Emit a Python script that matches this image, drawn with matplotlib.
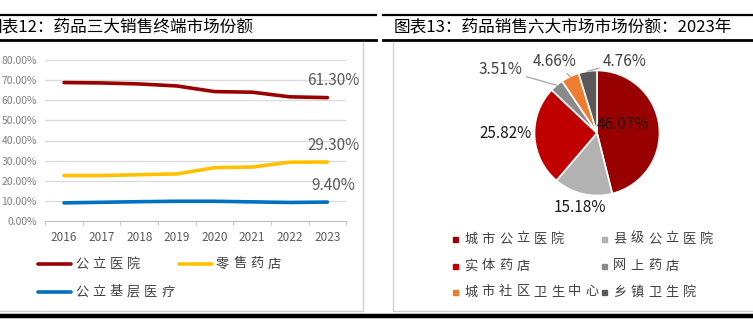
import numpy as np
import matplotlib
matplotlib.use("Agg")
import matplotlib.pyplot as plt
from matplotlib.patches import Rectangle

plt.rcParams['font.family'] = ['Noto Sans CJK SC', 'DejaVu Sans']

# ---- data ----
years = [2016, 2017, 2018, 2019, 2020, 2021, 2022, 2023]
public_hosp = [68.8, 68.6, 68.1, 67.1, 64.3, 64.0, 61.7, 61.3]
retail = [22.6, 22.6, 23.0, 23.4, 26.5, 26.8, 29.2, 29.3]
grassroots = [9.0, 9.3, 9.6, 9.8, 9.8, 9.5, 9.2, 9.4]
line_names = ['公立医院', '零售药店', '公立基层医疗']
line_colors = ['#9B0000', '#FFC000', '#0070C0']

pie_names = ['城市公立医院', '县级公立医院', '实体药店', '网上药店', '城市社区卫生中心', '乡镇卫生院']
pie_shares = [46.07, 15.18, 25.82, 3.51, 4.66, 4.76]
pie_colors = ['#990000', '#B2B2B2', '#C00000', '#8A8A8A', '#ED7D31', '#595959']

W, H = 753, 328
fig = plt.figure(figsize=(W / 100, H / 100), dpi=100)


def box(x0, y0, x1, y1):
    # pixel box (top-left origin) -> figure fraction
    return [x0 / W, 1 - y1 / H, (x1 - x0) / W, (y1 - y0) / H]


# overlay in pixel coords for frames, titles, legends
bg = fig.add_axes([0, 0, 1, 1])
bg.set_xlim(0, W)
bg.set_ylim(H, 0)
bg.axis('off')

# black rules
bg.plot([0, 376], [14.5, 14.5], color='black', lw=1.6)
bg.plot([383, W], [14.5, 14.5], color='black', lw=1.6)
bg.plot([0, 376], [39.5, 39.5], color='black', lw=2.0)
bg.plot([383, W], [39.5, 39.5], color='black', lw=2.0)
bg.plot([0, W], [316, 316], color='black', lw=3.2)
# gray frames
bg.plot([363, 363, 0], [42, 311, 311], color='#D0D0D0', lw=1.0)
bg.plot([393, 393, W], [42, 311, 311], color='#D0D0D0', lw=1.0)

# titles (left one is cut at the edge, as in the source page)
bg.text(-14, 27, '图表12：药品三大销售终端市场份额', fontsize=12, va='center', ha='left', color='black')
bg.text(394, 27, '图表13：药品销售六大市场市场份额：2023年', fontsize=12, va='center', ha='left', color='black')


def spaced(x, y, s, step=17.3, size=9.5, color='#404040'):
    for i, ch in enumerate(s):
        bg.text(x + i * step, y, ch, fontsize=size, ha='center', va='center', color=color)


# ---- line chart ----
ax = fig.add_axes(box(45.2, 60, 346.2, 221))
x = np.arange(len(years))
series = [public_hosp, retail, grassroots]
for vals, c in zip(series, line_colors):
    ax.plot(x, vals, color=c, lw=2.6, solid_capstyle='round')
    ax.annotate(f'{vals[-1]:.2f}%', (x[-1], vals[-1]), xytext=(6, 17),
                textcoords='offset pixels', ha='center', va='center',
                fontsize=11, color='#595959')
ax.set_xlim(-0.5, len(years) - 0.5)
ax.set_ylim(0, 80)
ax.set_yticks(np.arange(0, 81, 10))
ax.set_yticklabels([f'{v:.2f}%' for v in np.arange(0, 81, 10)], fontsize=7.5, color='#7F7F7F')
ax.yaxis.grid(True, color='#D9D9D9', lw=0.9)
ax.set_axisbelow(True)
ax.set_xticks(x)
ax.set_xticklabels([str(y) for y in years], fontsize=8.5, color='#595959')
ax.set_xticks(np.arange(-0.5, len(years)), minor=True)
ax.tick_params(axis='x', which='major', length=0, pad=7)
ax.tick_params(axis='x', which='minor', length=3, color='#BFBFBF')
ax.tick_params(axis='y', length=0, pad=6)
for s in ['top', 'right', 'left']:
    ax.spines[s].set_visible(False)
ax.spines['bottom'].set_color('#BFBFBF')
ax.patch.set_alpha(0)

# line legend
leg_pos = [(38, 264), (179, 264), (38, 292)]
for (lx, ly), name, c in zip(leg_pos, line_names, line_colors):
    bg.plot([lx, lx + 33], [ly, ly], color=c, lw=2.6, solid_capstyle='round')
    spaced(lx + 43.5, ly, name)

# ---- pie chart ----
cx, cy, half = 597, 133, 100
pax = fig.add_axes(box(cx - half, cy - half, cx + half, cy + half))
wedges, _ = pax.pie(pie_shares, colors=pie_colors, startangle=90, counterclock=False,
                    wedgeprops=dict(edgecolor='white', linewidth=1.2))
pax.set_xlim(-1.6, 1.6)
pax.set_ylim(-1.6, 1.6)
pax.axis('off')

label_xy = [(0.42, 0.14), (-0.27, -1.2), (-1.47, 0.0), (-1.55, 1.02), (-0.67, 1.15), (0.45, 1.15)]
leader = [False, False, False, True, True, True]
for w, v, (tx, ty), ld in zip(wedges, pie_shares, label_xy, leader):
    ang = np.deg2rad((w.theta1 + w.theta2) / 2)
    edge = (np.cos(ang), np.sin(ang))
    if ld:
        pax.annotate(f'{v:.2f}%', edge, xytext=(tx, ty), ha='center', va='center',
                     fontsize=11, color='#404040',
                     arrowprops=dict(arrowstyle='-', color='#A6A6A6', lw=0.9,
                                     shrinkA=1, shrinkB=0))
    else:
        pax.text(tx, ty, f'{v:.2f}%', ha='center', va='center', fontsize=11, color='#1A1A1A')

# pie legend
pie_leg = [(456, 239), (605, 239), (456, 266), (605, 266), (456, 292), (605, 292)]
for (lx, ly), name, c in zip(pie_leg, pie_names, pie_colors):
    bg.add_patch(Rectangle((lx - 2.5, ly - 2.5), 5, 5, color=c))
    spaced(lx + 15, ly, name)

fig.savefig('out.png', dpi=100)
